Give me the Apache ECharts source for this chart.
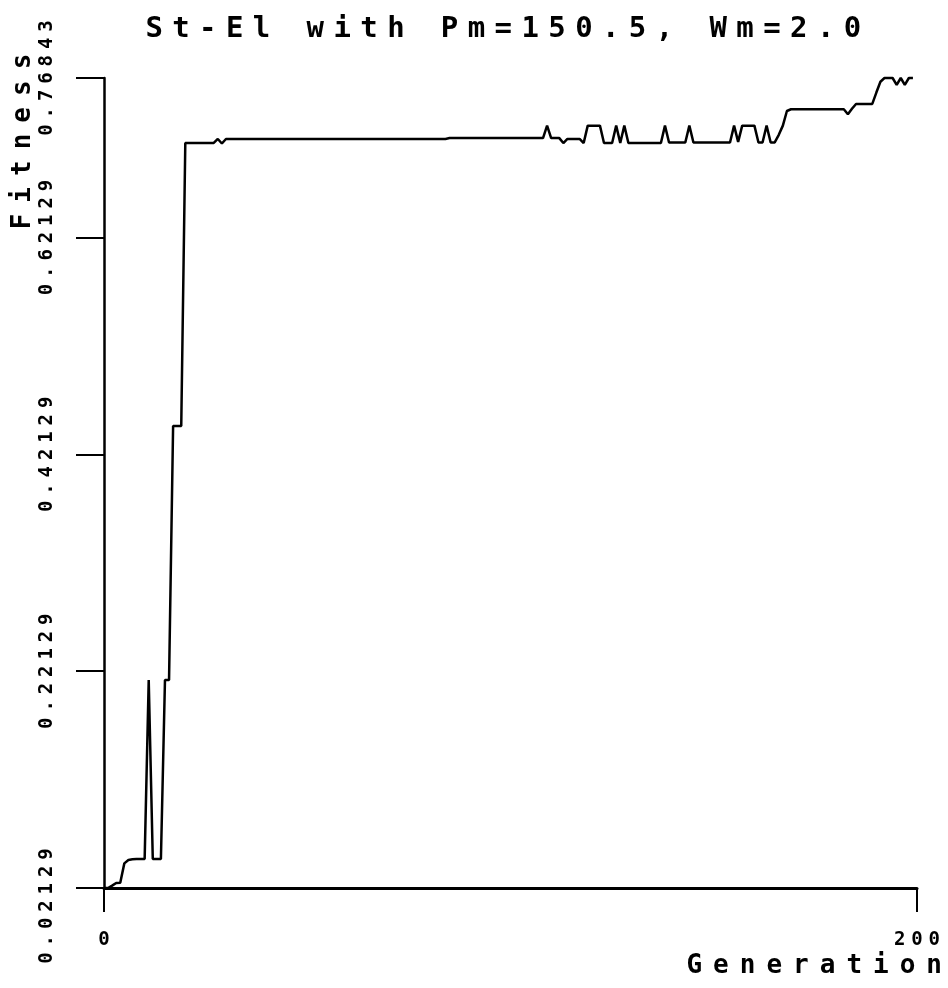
<!DOCTYPE html>
<html><head><meta charset="utf-8">
<script src="https://cdn.jsdelivr.net/npm/echarts@6/dist/echarts.min.js"></script>
<style>html,body{margin:0;padding:0;background:#fff}#c{width:948px;height:988px}</style>
</head><body><div id="c"></div>
<script>
const titleText = 'St-El with Pm=150.5, Wm=2.0';
const xName = 'Generation';
const yName = 'Fitness';
const xTicks = [0, 200];
const yTicks = [0.02129, 0.22129, 0.42129, 0.62129, 0.76843];
// best fitness per generation (index = generation)
const fitness = [
  0.02129, 0.02129, 0.0235, 0.0259, 0.0262, 0.0440, 0.0471, 0.0478, 0.0480, 0.0480,
  0.0480, 0.2132, 0.0480, 0.0480, 0.0480, 0.2132, 0.2132, 0.4475, 0.4475, 0.4475,
  0.7085, 0.7085, 0.7085, 0.7085, 0.7085, 0.7085, 0.7085, 0.7085, 0.7122, 0.7080,
  0.7122, 0.7122, 0.7122, 0.7122, 0.7122, 0.7122, 0.7122, 0.7122, 0.7122, 0.7122,
  0.7122, 0.7122, 0.7122, 0.7122, 0.7122, 0.7122, 0.7122, 0.7122, 0.7122, 0.7122,
  0.7122, 0.7122, 0.7122, 0.7122, 0.7122, 0.7122, 0.7122, 0.7122, 0.7122, 0.7122,
  0.7122, 0.7122, 0.7122, 0.7122, 0.7122, 0.7122, 0.7122, 0.7122, 0.7122, 0.7122,
  0.7122, 0.7122, 0.7122, 0.7122, 0.7122, 0.7122, 0.7122, 0.7122, 0.7122, 0.7122,
  0.7122, 0.7122, 0.7122, 0.7122, 0.7122, 0.7130, 0.7130, 0.7130, 0.7130, 0.7130,
  0.7130, 0.7130, 0.7130, 0.7130, 0.7130, 0.7130, 0.7130, 0.7130, 0.7130, 0.7130,
  0.7130, 0.7130, 0.7130, 0.7130, 0.7130, 0.7130, 0.7130, 0.7130, 0.7130, 0.7245,
  0.7130, 0.7130, 0.7130, 0.7084, 0.7122, 0.7122, 0.7122, 0.7122, 0.7084, 0.7245,
  0.7245, 0.7245, 0.7245, 0.7084, 0.7084, 0.7084, 0.7245, 0.7084, 0.7245, 0.7084,
  0.7084, 0.7084, 0.7084, 0.7084, 0.7084, 0.7084, 0.7084, 0.7084, 0.7245, 0.7090,
  0.7090, 0.7090, 0.7090, 0.7090, 0.7245, 0.7090, 0.7090, 0.7090, 0.7090, 0.7090,
  0.7090, 0.7090, 0.7090, 0.7090, 0.7090, 0.7245, 0.7095, 0.7245, 0.7245, 0.7245,
  0.7245, 0.7090, 0.7090, 0.7245, 0.7090, 0.7090, 0.7160, 0.7245, 0.7380, 0.7396,
  0.7396, 0.7396, 0.7396, 0.7396, 0.7396, 0.7396, 0.7396, 0.7396, 0.7396, 0.7396,
  0.7396, 0.7396, 0.7396, 0.7350, 0.7400, 0.7445, 0.7445, 0.7445, 0.7445, 0.7445,
  0.7550, 0.7650, 0.76843, 0.76843, 0.76843, 0.7620, 0.76843, 0.7620, 0.76843, 0.76843
];

// wide, plotter-like letter spacing per font size
const LETTER_SPACING = {29: 9.4, 26: 11.0, 19: 5.9};
(function () {
  const P = CanvasRenderingContext2D.prototype;
  if (!('letterSpacing' in P)) return;
  ['fillText', 'strokeText', 'measureText'].forEach(function (name) {
    const f = P[name];
    P[name] = function () {
      const m = /([\d.]+)px/.exec(this.font);
      const s = m ? LETTER_SPACING[Math.round(parseFloat(m[1]))] : 0;
      this.letterSpacing = (s || 0) + 'px';
      return f.apply(this, arguments);
    };
  });
})();

const FONT = '"DejaVu Sans Mono", monospace';
const tickFont = {color: '#000', fontSize: 19, fontWeight: 'bold', fontFamily: FONT};
const chart = echarts.init(document.getElementById('c'), null, {renderer: 'canvas'});
chart.setOption({
  animation: false,
  backgroundColor: '#fff',
  textStyle: {fontFamily: FONT, color: '#000'},
  grid: {left: 104, right: 31, top: 78, bottom: 100, containLabel: false, outerBoundsMode: 'none'},
  xAxis: {
    type: 'value', min: xTicks[0], max: xTicks[xTicks.length - 1], interval: 200,
    axisLine: {show: true, onZero: false, lineStyle: {color: '#000', width: 3}},
    axisTick: {show: true, length: 24, customValues: xTicks, lineStyle: {color: '#000', width: 2}},
    axisLabel: Object.assign({show: true, margin: 40, customValues: xTicks, padding: [0, 0, 0, 5.9]}, tickFont),
    splitLine: {show: false}
  },
  yAxis: {
    type: 'value', min: yTicks[0], max: yTicks[yTicks.length - 1],
    axisLine: {show: true, onZero: false, lineStyle: {color: '#000', width: 2.5}},
    axisTick: {show: true, length: 28, customValues: yTicks, lineStyle: {color: '#000', width: 2}},
    axisLabel: Object.assign({show: true, rotate: 90, margin: 44, customValues: yTicks, padding: [0, 0, 0, 5.9],
      formatter: function (v) {
        const s = v.toFixed(5);
        return v === yTicks[0] ? '{lo|' + s + '}' : s;
      },
      rich: {lo: Object.assign({padding: [0, 36, 0, 0]}, tickFont)}}, tickFont),
    splitLine: {show: false}
  },
  series: [{
    type: 'line',
    data: fitness.map(function (v, i) { return [i, v]; }),
    symbol: 'none', showSymbol: false, clip: false,
    lineStyle: {color: '#000', width: 2.5}
  }],
  graphic: [
    {type: 'text', x: 508, y: 29, style: {text: titleText, fontSize: 29, fontWeight: 'bold', fontFamily: FONT, fill: '#000', align: 'center', verticalAlign: 'middle'}},
    {type: 'text', x: 953, y: 966, style: {text: xName, fontSize: 26, fontWeight: 'bold', fontFamily: FONT, fill: '#000', align: 'right', verticalAlign: 'middle'}},
    {type: 'text', x: 23, y: 136, rotation: Math.PI / 2, style: {text: yName, fontSize: 26, fontWeight: 'bold', fontFamily: FONT, fill: '#000', align: 'center', verticalAlign: 'middle'}}
  ]
});
</script></body></html>
